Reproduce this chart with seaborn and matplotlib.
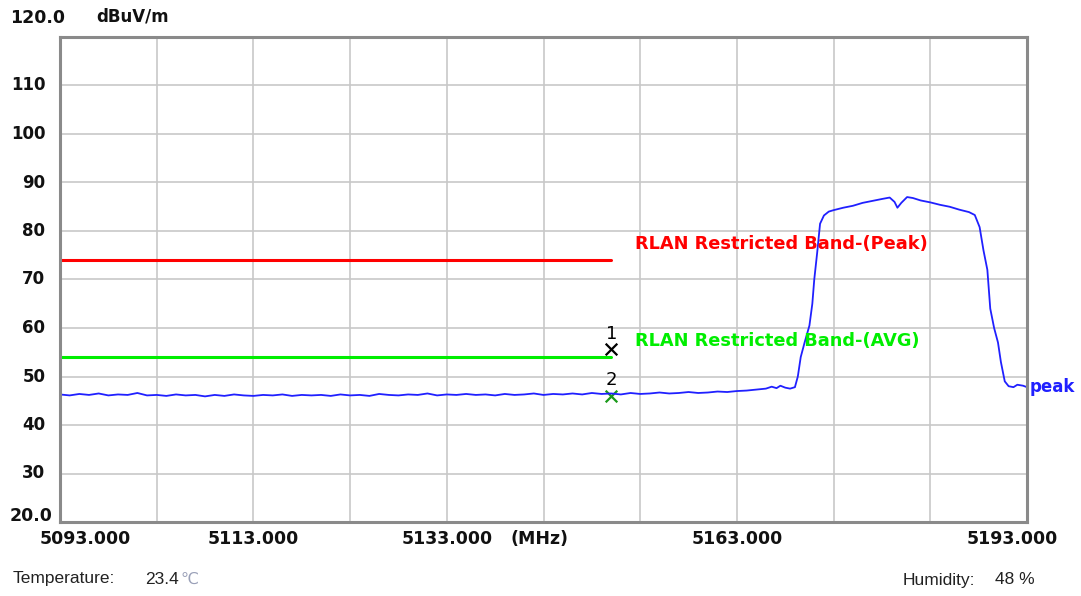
import matplotlib
matplotlib.use("Agg")
import matplotlib.pyplot as plt
import seaborn as sns
import numpy as np
import pandas as pd

freq_base = [5093, 5094, 5095, 5096, 5097, 5098, 5099, 5100, 5101, 5102,
             5103, 5104, 5105, 5106, 5107, 5108, 5109, 5110, 5111, 5112,
             5113, 5114, 5115, 5116, 5117, 5118, 5119, 5120, 5121, 5122,
             5123, 5124, 5125, 5126, 5127, 5128, 5129, 5130, 5131, 5132,
             5133, 5134, 5135, 5136, 5137, 5138, 5139, 5140, 5141, 5142,
             5143, 5144, 5145, 5146, 5147, 5148, 5149, 5150, 5151, 5152,
             5153, 5154, 5155, 5156, 5157, 5158, 5159, 5160, 5161, 5162,
             5163, 5164, 5165, 5166]
level_base = [46.3, 46.1, 46.4, 46.2, 46.5, 46.1, 46.3, 46.2, 46.6, 46.1,
              46.2, 46.0, 46.3, 46.1, 46.2, 45.9, 46.2, 46.0, 46.3, 46.1,
              46.0, 46.2, 46.1, 46.3, 46.0, 46.2, 46.1, 46.2, 46.0, 46.3,
              46.1, 46.2, 46.0, 46.4, 46.2, 46.1, 46.3, 46.2, 46.5, 46.1,
              46.3, 46.2, 46.4, 46.2, 46.3, 46.1, 46.4, 46.2, 46.3, 46.5,
              46.2, 46.4, 46.3, 46.5, 46.3, 46.6, 46.4, 46.5, 46.3, 46.6,
              46.4, 46.5, 46.7, 46.5, 46.6, 46.8, 46.6, 46.7, 46.9, 46.8,
              47.0, 47.1, 47.3, 47.5]
freq_band = [5166.6, 5167.1, 5167.5, 5168.0, 5168.5, 5169.0, 5169.3, 5169.6,
             5170.0, 5170.5, 5170.8, 5171.0, 5171.3, 5171.6, 5172.0, 5172.5,
             5173.0, 5174.0, 5175.0, 5176.0, 5177.0, 5178.0, 5178.8, 5179.3,
             5179.6, 5180.0, 5180.6, 5181.2, 5182.0, 5183.0, 5184.0, 5185.0,
             5186.0, 5187.0, 5187.6, 5188.1, 5188.5, 5188.9, 5189.2, 5189.6,
             5190.0, 5190.3, 5190.7, 5191.1, 5191.6, 5192.0, 5192.6, 5193.0]
level_band = [47.9, 47.6, 48.1, 47.7, 47.5, 47.8, 50.0, 54.0,
              57.0, 60.5, 65.0, 70.0, 75.5, 81.5, 83.2, 84.0,
              84.3, 84.8, 85.2, 85.8, 86.2, 86.6, 86.9, 86.0,
              84.8, 85.8, 87.0, 86.8, 86.3, 85.9, 85.4, 85.0,
              84.4, 83.9, 83.3, 80.8, 76.0, 72.0, 64.0, 60.0,
              57.0, 53.0, 49.0, 48.0, 47.8, 48.3, 48.1, 47.8]

# limit lines
limit_freq = [5093, 5150]
limit_peak = [74.0, 74.0]
limit_avg = [54.0, 54.0]

# markers
marker_freq = [5150.0, 5150.0]
marker_level = [55.6, 46.0]
marker_names = ["1", "2"]

y_ticks = [30, 40, 50, 60, 70, 80, 90, 100, 110]
x_label_pos = [5113, 5133, 5163]
x_label_text = ["5113.000", "5133.000", "5163.000"]

trace = pd.DataFrame({"freq": freq_base + freq_band,
                      "level": level_base + level_band})

sns.set_theme(style="white")
plt.rcParams["font.family"] = ["DejaVu Sans"]

fig = plt.figure(figsize=(10.81, 5.96), dpi=100)
ax = fig.add_axes([60 / 1081, 1 - 522 / 596, 967 / 1081, 485 / 596])

ax.set_xlim(5093, 5193)
ax.set_ylim(20, 120)
ax.set_xticks(np.arange(5093, 5194, 10))
ax.set_yticks(np.arange(20, 121, 10))
ax.grid(True, color="#c8c8c8", linewidth=1.2)
ax.tick_params(length=0, labelbottom=False, labelleft=False)
for sp in ax.spines.values():
    sp.set_color("#8a8a8a")
    sp.set_linewidth(2.2)

sns.lineplot(x=limit_freq, y=limit_peak, color="#ff0000", linewidth=2.2, ax=ax)
sns.lineplot(x=limit_freq, y=limit_avg, color="#00ee00", linewidth=2.2, ax=ax)
sns.lineplot(data=trace, x="freq", y="level", color="#2020ff", linewidth=1.3,
             estimator=None, sort=False, ax=ax)

sns.scatterplot(x=marker_freq[:1], y=marker_level[:1], marker="x", s=70,
                color="black", linewidth=1.6, ax=ax)
sns.scatterplot(x=marker_freq[1:], y=marker_level[1:], marker="x", s=70,
                color="#1a9a1a", linewidth=1.6, ax=ax)
for f, lv, name in zip(marker_freq, marker_level, marker_names):
    ax.text(f, lv + 1.4, name, ha="center", va="bottom", fontsize=13,
            color="black")

ax.set_xlabel("")
ax.set_ylabel("")

bold = dict(fontweight="bold", color="#111111")
ax.text(5152.5, 77.3, "RLAN Restricted Band-(Peak)", color="#ff0000",
        fontsize=12.8, fontweight="bold", va="center")
ax.text(5152.5, 57.3, "RLAN Restricted Band-(AVG)", color="#00ee00",
        fontsize=12.8, fontweight="bold", va="center")
ax.text(5193.3, 47.9, "peak", color="#2020ff", fontsize=12, fontweight="bold",
        va="center", ha="left")

# y tick labels
for t in y_ticks:
    ax.text(-0.015, (t - 20) / 100, str(t), transform=ax.transAxes,
            ha="right", va="center", fontsize=12, **bold)
ax.text(-0.052, 1.04, "120.0", transform=ax.transAxes, ha="left",
        va="center", fontsize=12.5, **bold)
ax.text(0.038, 1.042, "dBuV/m", transform=ax.transAxes, ha="left",
        va="center", fontsize=12, **bold)
ax.text(-0.052, 0.012, "20.0", transform=ax.transAxes, ha="left",
        va="center", fontsize=12.5, **bold)

# x tick labels
ax.text(-0.021, -0.035, "5093.000", transform=ax.transAxes, ha="left",
        va="center", fontsize=12.5, **bold)
for p, s in zip(x_label_pos, x_label_text):
    ax.annotate(s, xy=(p, 0), xycoords=("data", "axes fraction"),
                xytext=(0, -12), textcoords="offset points",
                ha="center", va="center", fontsize=12.5, **bold)
ax.annotate("(MHz)", xy=(5133, 0), xycoords=("data", "axes fraction"),
            xytext=(46, -12), textcoords="offset points",
            ha="left", va="center", fontsize=12.5, **bold)
ax.text(1.032, -0.035, "5193.000", transform=ax.transAxes, ha="right",
        va="center", fontsize=12.5, **bold)

# footer
foot = dict(fontsize=12.5, family="Liberation Sans", color="#222222",
            va="center")
fig.text(13 / 1081, 1 - 579 / 596, "Temperature:", **foot)
fig.text(145 / 1081, 1 - 579 / 596, "23.4", **foot)
fig.text(180 / 1081, 1 - 579 / 596, "℃", fontsize=11.5,
         family="DejaVu Sans", color="#9aa0b8", va="center")
fig.text(903 / 1081, 1 - 580 / 596, "Humidity:", **foot)
fig.text(995 / 1081, 1 - 580 / 596, "48 %", **foot)

fig.savefig("out.png", dpi=100)
